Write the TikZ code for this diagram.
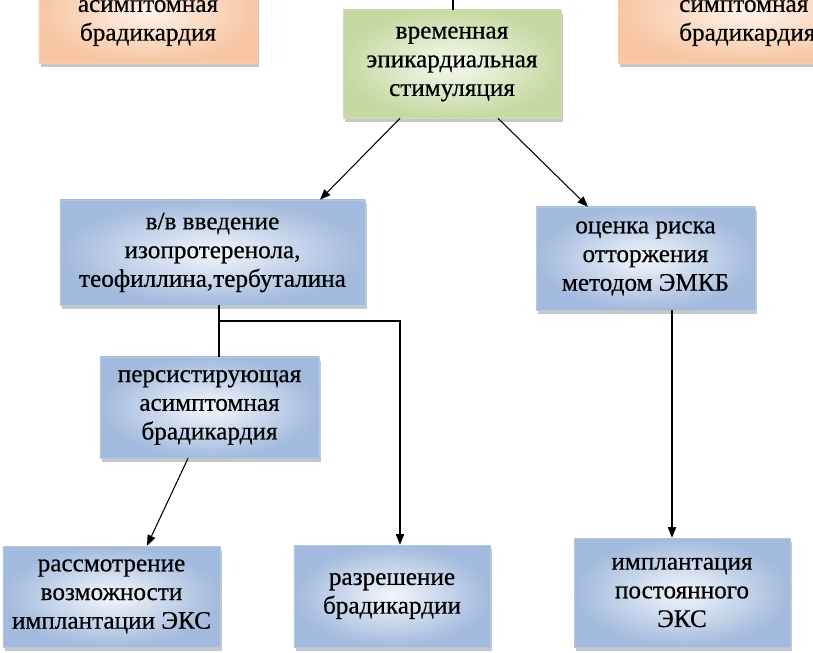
\documentclass[tikz,border=0pt]{standalone}
\usepackage{fontspec}
\setmainfont{Liberation Serif}[FakeBold=0.5]
\usetikzlibrary{shadows,arrows.meta,calc}
\definecolor{bEdge}{HTML}{A2BADD}
\definecolor{bIn}{HTML}{F3F6FB}
\definecolor{bLine}{HTML}{B4C7E3}
\definecolor{gEdge}{HTML}{C6D9A3}
\definecolor{gIn}{HTML}{F6F9EF}
\definecolor{gLine}{HTML}{CEDEB2}
\definecolor{oEdge}{HTML}{F8C6A3}
\definecolor{oIn}{HTML}{FEF2EA}
\definecolor{oLine}{HTML}{F6CFB3}
\begin{document}
\begin{tikzpicture}[x=0.03cm,y=-0.03cm,
  font=\fontsize{21.5}{24.5}\selectfont,
  boxbase/.style={rectangle, inner sep=0pt, align=center, line width=0.5pt,
    drop shadow={shadow xshift=2pt,shadow yshift=-3pt,opacity=0.4,fill=black!55}},
  bbox/.style={boxbase, inner color=bIn, outer color=bEdge, draw=bLine},
  gbox/.style={boxbase, inner color=gIn, outer color=gEdge, draw=gLine},
  obox/.style={boxbase, inner color=oIn, outer color=oEdge, draw=oLine},
  conn/.style={line width=0.9pt, draw=black},
  arr/.style={conn, -{Triangle[length=9pt,width=7pt]}}]
\useasboundingbox (0,0) rectangle (813,653);
\clip (0,0) rectangle (813,653);
\fill[white] (0,0) rectangle (813,653);

% top partial boxes
\node[obox, minimum width=6.54cm, minimum height=3.0cm] (oL) at (148,13) {};
\node[align=center] (oLtext) at (148,23) {асимптомная\\брадикардия};
\node[obox, minimum width=7.92cm, minimum height=3.0cm] (oR) at (750,13) {};
\node[align=left, anchor=west, inner sep=0pt] (oRtext) at (679,23) {симптомная\\брадикардия};

% main boxes
\node[gbox, minimum width=6.54cm, minimum height=3.24cm] (green) at (452,64)
  {временная\\эпикардиальная\\стимуляция};
\node[bbox, minimum width=9.15cm, minimum height=3.15cm] (blue1) at (212.5,252.5)
  {в/в введение\\изопротеренола,\\теофиллина,тербуталина};
\node[bbox, minimum width=6.57cm, minimum height=3.09cm] (blue2) at (645.5,258.5)
  {оценка риска\\отторжения\\методом ЭМКБ};
\node[bbox, minimum width=6.57cm, minimum height=3.03cm] (persist) at (209.5,407.5)
  {персистирующая\\асимптомная\\брадикардия};
\node[bbox, minimum width=6.51cm, minimum height=3.03cm] (bot1) at (111.5,596.5)
  {рассмотрение\\возможности\\имплантации ЭКС};
\node[bbox, minimum width=5.88cm, minimum height=3.06cm] (bot2) at (392,596)
  {разрешение\\брадикардии};
\node[bbox, minimum width=6.48cm, minimum height=3.27cm] (bot3) at (682,592.5)
  {имплантация\\постоянного\\ЭКС};

% connectors
\coordinate (topend) at (453,-3);
\draw[conn] (topend) -- (topend |- green.north);
\draw[arr] ([xshift=-1.56cm]green.south) -- ([xshift=3.225cm]blue1.north);
\draw[arr] ([xshift=1.38cm]green.south) -- ([xshift=-1.725cm]blue2.north);
\coordinate (j) at (219,321);
\draw[conn] (blue1.south -| j) -- (persist.north -| j);
\draw[arr] (j) -| ([xshift=0.24cm]bot2.north);
\draw[arr] ([xshift=-0.645cm]persist.south) -- ([xshift=1.065cm]bot1.north);
\draw[arr] ([xshift=0.795cm]blue2.south) -- ([xshift=0.795cm]blue2.south |- bot3.north);
\end{tikzpicture}
\end{document}
